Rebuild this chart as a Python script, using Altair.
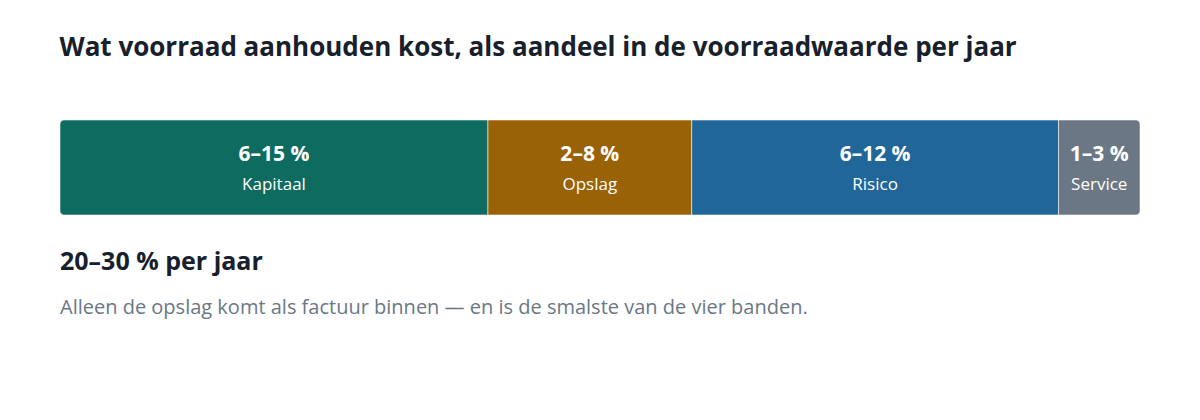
import altair as alt
import pandas as pd

# Kostenbanden van voorraad (percentage van voorraadwaarde per jaar)
categories = ["Kapitaal", "Opslag", "Risico", "Service"]
low = [6, 2, 6, 1]
high = [15, 8, 12, 3]
colors = ["#0d6c5f", "#9a6207", "#216699", "#6b7784"]

title_text = "Wat voorraad aanhouden kost, als aandeel in de voorraadwaarde per jaar"
total_text = "20–30 % per jaar"
note_text = "Alleen de opslag komt als factuur binnen — en is de smalste van de vier banden."

FONT = "Open Sans"

df = pd.DataFrame(
    {
        "category": categories,
        "low": low,
        "high": high,
        "order": list(range(len(categories))),
    }
)

base = (
    alt.Chart(df)
    .transform_calculate(
        mid="(datum.low + datum.high) / 2",
        range_label="datum.low + '–' + datum.high + ' %'",
        row="'bar'",
    )
    .transform_stack(
        stack="mid",
        as_=["x0", "x1"],
        groupby=[],
        sort=[alt.SortField("order", order="ascending")],
    )
    .transform_calculate(xc="(datum.x0 + datum.x1) / 2")
)

x_scale = alt.Scale(nice=False, zero=True)
color_scale = alt.Scale(domain=categories, range=colors)
y_enc = alt.Y("row:N", axis=None, scale=alt.Scale(paddingInner=0, paddingOuter=0))


def segment(filter_expr, **radius):
    return (
        base.transform_filter(filter_expr)
        .mark_bar(stroke="white", strokeWidth=1, strokeOpacity=0.55, **radius)
        .encode(
            x=alt.X("x0:Q", axis=None, scale=x_scale),
            x2="x1:Q",
            y=y_enc,
            color=alt.Color("category:N", scale=color_scale, legend=None),
        )
    )


first = segment(
    alt.datum.order == 0, cornerRadiusTopLeft=4, cornerRadiusBottomLeft=4
)
middle = segment((alt.datum.order > 0) & (alt.datum.order < len(categories) - 1))
last = segment(
    alt.datum.order == len(categories) - 1,
    cornerRadiusTopRight=4,
    cornerRadiusBottomRight=4,
)

value_text = base.mark_text(
    font=FONT, fontSize=21, fontWeight="bold", color="white", baseline="middle", dy=-13
).encode(x="xc:Q", text="range_label:N")

label_text = base.mark_text(
    font=FONT, fontSize=17, color="white", baseline="middle", dy=17
).encode(x="xc:Q", text="category:N")

notes = pd.DataFrame({"total": [total_text], "note": [note_text]})

total_mark = (
    alt.Chart(notes)
    .mark_text(
        font=FONT, fontSize=25, fontWeight="bold", color="#17202b", align="left",
        baseline="middle",
    )
    .encode(x=alt.value(0), y=alt.value(142), text="total:N")
)

note_mark = (
    alt.Chart(notes)
    .mark_text(font=FONT, fontSize=20, color="#6b7785", align="left", baseline="middle")
    .encode(x=alt.value(0), y=alt.value(188), text="note:N")
)

chart = (
    alt.layer(first, middle, last, value_text, label_text, total_mark, note_mark)
    .properties(
        width=1080,
        height=95,
        autosize=alt.AutoSizeParams(type="none"),
        padding={"left": 52, "top": 112, "right": 52, "bottom": 190},
        title=alt.TitleParams(
            title_text,
            anchor="start",
            font=FONT,
            fontSize=26,
            fontWeight="bold",
            color="#17202b",
            offset=59,
        ),
    )
    .configure_view(stroke=None)
)

chart.save("out.html", embed_options={"renderer": "svg", "actions": False})
